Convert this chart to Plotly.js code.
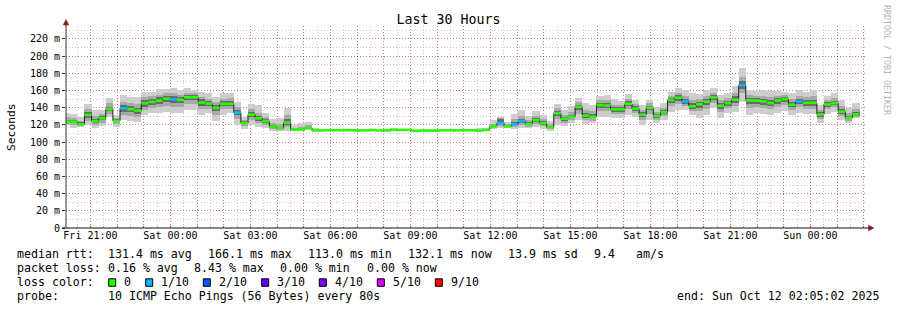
<!DOCTYPE html>
<html><head><meta charset="utf-8">
<script src="https://cdn.plot.ly/plotly-3.0.1.min.js"></script>
<style>html,body{margin:0;padding:0;background:#fff}#chart{width:897px;height:310px}</style>
</head><body><div id="chart"></div>
<script>
// ---- data (16-minute consolidated bins, values in ms) ----
const binStart = '2025-10-10T19:58:32Z';
const binMinutes = 16;
const median = [
 123.7,123.7,120.7,131.5,124.2,127.7,138.5,124.6,139.3,138.2,
 136.6,145.1,146.7,148.2,150.5,149.8,149.0,152.1,152.1,146.0,
 144.8,139.8,144.4,144.4,134.3,122.2,131.9,127.7,124.4,118.0,
 116.4,122.6,114.5,114.8,116.4,113.5,113.5,113.8,113.8,113.8,
 113.8,113.5,113.5,114.0,113.5,113.5,114.2,114.2,114.2,113.0,
 113.3,113.3,113.3,113.6,113.6,113.6,113.7,113.7,113.3,114.2,
 118.4,121.9,118.2,120.7,124.2,121.0,125.5,121.9,117.0,133.5,
 127.1,129.4,140.9,130.8,129.4,143.0,142.6,138.1,138.1,144.4,
 138.9,131.8,139.9,130.4,134.7,148.8,151.5,147.3,141.6,144.0,
 146.9,151.9,142.2,145.3,149.2,166.1,148.6,148.1,147.3,145.3,
 148.3,150.0,143.4,147.3,145.7,145.7,132.1,143.8,145.3,135.4,
 128.1,132.1];
const loss = [
 0,0,0,0,0,0,0,0,1,0, 0,0,0,0,0,1,0,0,0,0, 0,0,0,0,1,0,0,0,0,0,
 0,0,0,0,0,0,0,0,0,0, 0,0,0,0,0,0,0,0,0,0, 0,0,0,0,0,0,0,0,0,0,
 0,1,0,1,1,0,0,0,0,0, 0,0,0,0,0,0,0,0,0,0, 0,0,0,0,0,0,0,1,0,0,
 0,0,0,0,0,1,0,0,0,0, 0,0,0,1,0,0,0,0,0,0, 0,0];
const smokeLo = [
 120.0,116.1,118.0,119.9,116.1,118.8,128.9,118.0,125.8,125.0,
 123.1,131.6,133.5,133.5,135.5,133.5,134.3,137.4,137.4,131.6,
 133.5,125.0,131.6,133.5,119.9,115.3,119.9,118.0,116.1,113.3,
 113.3,113.3,113.3,113.3,114.1,112.6,112.7,112.9,112.9,112.9,
 112.8,112.6,112.6,113.0,112.6,112.7,113.2,113.2,113.2,112.2,
 112.4,112.4,112.5,112.7,112.7,112.7,112.8,112.8,112.4,113.1,
 115.3,116.0,116.0,115.3,116.8,116.0,118.0,115.3,112.9,119.9,
 119.1,121.9,125.7,120.7,121.9,129.6,129.6,127.7,128.5,131.6,
 129.6,119.9,125.7,121.9,125.7,135.4,137.4,137.4,131.6,127.7,
 131.6,139.3,128.5,133.5,135.4,147.1,131.6,133.5,132.3,131.6,
 133.5,136.2,131.6,133.5,132.3,132.3,121.9,132.3,135.4,125.7,
 121.9,127.7];
const smokeHi = [
 134.3,132.7,129.6,144.4,137.4,137.4,151.8,131.6,154.9,152.9,
 152.1,158.0,158.7,161.8,161.5,162.6,160.7,162.6,160.7,158.7,
 156.8,152.9,156.8,157.6,147.1,129.6,144.4,143.2,133.5,126.9,
 127.7,139.3,119.5,122.7,123.4,116.5,115.0,115.2,115.0,115.0,
 115.4,115.0,114.8,115.6,115.0,114.9,115.8,115.6,115.5,114.4,
 114.6,114.6,114.8,115.0,115.0,115.2,115.3,115.4,116.5,115.8,
 125.7,129.6,123.8,132.3,137.4,130.4,136.2,131.6,124.6,144.4,
 137.4,142.0,151.7,145.1,143.2,153.7,154.8,149.8,147.9,156.0,
 149.0,143.2,149.0,141.3,145.9,157.9,162.6,160.7,156.8,155.6,
 160.7,162.6,154.8,156.8,165.7,185.9,160.7,159.5,160.7,159.5,
 159.5,158.7,156.8,160.7,158.7,160.7,143.2,154.1,156.8,149.0,
 139.3,145.1];
const innerLo = [
 121.5,119.5,119.0,125.0,119.5,122.5,132.5,121.0,131.5,130.5,
 129.5,137.5,139.5,140.5,142.5,141.0,141.0,144.5,144.5,139.0,
 138.5,132.0,138.0,139.0,127.0,118.5,125.5,122.0,120.0,115.5,
 114.5,117.0,113.8,114.0,115.0,113.0,113.0,113.3,113.3,113.3,
 113.3,113.0,113.0,113.5,113.0,113.0,113.7,113.7,113.7,112.5,
 112.8,112.8,112.8,113.1,113.1,113.1,113.2,113.2,112.8,113.7,
 116.5,118.5,117.0,117.5,120.0,118.0,121.5,118.5,114.8,126.5,
 122.5,125.5,133.0,125.5,125.0,136.5,136.0,132.5,133.0,138.0,
 134.0,125.5,133.0,126.0,130.0,142.0,144.5,142.0,136.5,136.0,
 139.0,145.5,135.5,139.5,142.0,156.5,140.0,141.0,140.0,138.5,
 141.0,143.0,137.5,140.5,139.0,139.0,127.0,138.0,140.5,130.5,
 125.0,129.5];
const innerHi = [
 129.0,128.5,125.0,138.0,130.0,132.5,145.0,128.0,147.0,145.5,
 144.0,152.0,153.0,155.0,156.5,156.5,155.0,157.5,157.0,152.5,
 150.5,146.5,150.5,151.0,141.0,126.0,138.5,134.0,129.0,122.0,
 121.0,131.0,116.5,118.0,119.5,114.6,114.4,114.6,114.6,114.6,
 114.7,114.3,114.3,114.9,114.3,114.3,115.0,115.0,115.0,113.8,
 114.1,114.1,114.1,114.4,114.4,114.5,114.5,114.6,114.5,115.0,
 121.5,128.0,120.5,126.5,130.5,125.5,130.5,126.5,120.5,139.5,
 132.0,135.0,146.5,137.5,136.0,148.5,148.5,143.5,143.0,150.0,
 144.0,137.5,145.0,135.5,140.0,153.5,157.0,153.5,148.5,150.0,
 153.5,157.0,148.5,151.0,156.5,176.0,154.5,154.0,154.0,152.5,
 154.0,154.5,149.5,154.0,152.0,153.0,137.5,149.0,151.0,142.0,
 133.5,138.5];
const coreLo = [
 122.5,121.8,119.8,128.5,122.0,125.5,136.0,123.0,135.5,134.5,
 133.0,141.0,143.0,144.5,146.5,145.5,145.5,148.5,148.5,142.5,
 141.5,136.0,141.5,141.5,131.0,120.5,129.0,125.0,122.5,116.8,
 115.5,119.5,114.0,114.3,115.6,113.3,113.3,113.6,113.6,113.6,
 113.6,113.3,113.3,113.8,113.3,113.3,114.0,114.0,114.0,112.8,
 113.1,113.1,113.1,113.4,113.4,113.4,113.5,113.5,113.1,114.0,
 117.5,120.5,117.6,119.3,122.3,119.6,123.5,120.3,116.0,130.5,
 125.0,127.5,137.5,128.5,127.5,140.0,139.5,135.5,135.5,141.5,
 136.5,129.0,137.0,128.5,132.5,145.5,148.0,144.5,139.0,140.0,
 143.0,148.5,139.0,142.5,145.5,161.5,144.5,144.5,143.5,142.0,
 144.5,146.5,140.5,144.0,142.5,142.5,129.5,141.0,143.0,133.0,
 126.5,130.8];
const coreHi = [
 126.0,125.8,122.8,134.5,127.0,130.0,141.0,126.5,143.0,141.5,
 140.0,148.5,150.0,152.0,154.0,153.5,152.5,155.0,154.5,149.5,
 148.0,143.0,147.5,147.5,137.5,124.0,135.0,130.5,126.5,119.8,
 118.0,127.0,115.3,116.0,117.6,114.0,114.0,114.2,114.2,114.2,
 114.2,113.9,113.9,114.4,113.9,113.9,114.6,114.6,114.6,113.4,
 113.7,113.7,113.7,114.0,114.0,114.0,114.1,114.1,113.8,114.6,
 119.8,127.0,119.2,123.0,127.0,123.0,128.0,124.0,118.5,136.5,
 129.5,132.0,143.5,134.0,132.5,145.5,145.5,141.0,140.5,147.5,
 141.5,134.5,142.5,133.0,137.0,151.0,154.5,150.5,145.0,147.0,
 150.0,154.5,145.5,148.0,153.0,171.0,151.5,151.0,150.5,149.0,
 151.0,152.5,146.5,150.5,149.0,149.0,135.0,146.5,148.0,138.5,
 130.5,135.0];

const lossLevels = [0, 1, 2, 3, 4, 5, 9];
const lossLabels = ['0', '1/10', '2/10', '3/10', '4/10', '5/10', '9/10'];
const lossColors = ['#26ff00', '#00b8ff', '#0059ff', '#5e00ff', '#7e00ff', '#dd00ff', '#ff0000'];

const yTickVals = [0,20,40,60,80,100,120,140,160,180,200,220];
const yTickText = ['0','20 m','40 m','60 m','80 m','100 m','120 m','140 m','160 m','180 m','200 m','220 m'];
const xFirstHour = '2025-10-10T21:00:00Z';
const xHourCount = 30;
const xTickLabels = ['Fri 21:00','Sat 00:00','Sat 03:00','Sat 06:00','Sat 09:00','Sat 12:00','Sat 15:00','Sat 18:00','Sat 21:00','Sun 00:00'];
const rangeStart = '2025-10-10T20:05:02Z';
const rangeEnd = '2025-10-12T02:05:02Z';

const titleText = 'Last 30 Hours';
const rttItems = ['median rtt:','131.4 ms avg','166.1 ms max','113.0 ms min','132.1 ms now','13.9 ms sd','9.4','am/s'];
const lossItems = ['packet loss:','0.16 % avg','8.43 % max','0.00 % min','0.00 % now'];
const probeItems = ['probe:','10 ICMP Echo Pings (56 Bytes) every 80s'];
const endText = 'end: Sun Oct 12 02:05:02 2025';
const watermark = 'RRDTOOL / TOBI OETIKER';

// ---- layout helpers (pixel -> paper) ----
const L = 66, R = 866, T = 26, B = 228;
const PX = x => (x - L) / (R - L);
const PY = y => (B - y) / (B - T);
const MONO = 'DejaVu Sans Mono';

const binMs = binMinutes * 60000;
const t0 = Date.parse(binStart);
const starts = median.map((_, i) => t0 + i * binMs);
const centers = starts.map(s => s + binMs / 2);

function band(lo, hi, color) {
  return {type: 'bar', x: centers, base: lo, y: hi.map((h, i) => h - lo[i]), width: binMs,
    marker: {color: color, line: {width: 0}}, hoverinfo: 'skip'};
}
const traces = [
  band(smokeLo, smokeHi, '#cdcdcd'),
  band(innerLo, innerHi, '#a9a9a9'),
  band(coreLo, coreHi, '#6a6a6a'),
  {type: 'scatter', mode: 'lines', x: starts.concat([starts[starts.length - 1] + binMs]),
   y: median.concat([median[median.length - 1]]), line: {shape: 'hv', color: '#202020', width: 1}, hoverinfo: 'skip'}
];
lossLevels.forEach((lv, j) => {
  const xs = [], ys = [];
  median.forEach((m, i) => { if (loss[i] === lv) { xs.push(starts[i], starts[i] + binMs, null); ys.push(m, m, null); } });
  if (xs.length) traces.push({type: 'scatter', mode: 'lines', x: xs, y: ys, connectgaps: false,
    line: {color: lossColors[j], width: 2.6}, hoverinfo: 'skip'});
});

const hourMs = 3600000;
const xTickVals = [], xTickText = [];
for (let i = 0; i < xHourCount; i++) {
  xTickVals.push(Date.parse(xFirstHour) + i * hourMs);
  xTickText.push(i % 3 === 0 ? xTickLabels[i / 3] : '');
}

const nb = s => s.replace(/ /g, '\u00a0');
const ann = [];
function txt(x, y, s, size, extra) {
  ann.push(Object.assign({xref: 'paper', yref: 'paper', x: PX(x - 1), y: PY(y), text: nb(s), showarrow: false,
    xanchor: 'left', yanchor: 'middle', font: {family: MONO, size: size || 11.6, color: '#000'}}, extra || {}));
}
const rttX = [16, 107.3, 207.3, 306.7, 407, 507.3, 593.3, 635];
rttItems.forEach((s, i) => txt(rttX[i], 254.3, s));
const lossX = [16, 107.3, 192.7, 279.3, 365.7];
lossItems.forEach((s, i) => txt(lossX[i], 268.3, s));
txt(16, 282.3, 'loss color:');
const swX = [108.7, 145.7, 203.3, 261.7, 319.3, 377.3, 435.3];
const shapes = [];
lossLabels.forEach((s, i) => {
  txt(swX[i] + 14.6, 282.3, s);
  shapes.push({type: 'rect', xref: 'paper', yref: 'paper', x0: PX(swX[i]), x1: PX(swX[i] + 7), y0: PY(286.3), y1: PY(278.8),
    fillcolor: lossColors[i], line: {color: '#000', width: 1}});
});
txt(16, 296, probeItems[0]);
txt(107.3, 296, probeItems[1]);
ann.push({xref: 'paper', yref: 'paper', x: PX(881), y: PY(296), text: nb(endText), showarrow: false,
  xanchor: 'right', yanchor: 'middle', font: {family: MONO, size: 11.6, color: '#000'}});
ann.push({xref: 'paper', yref: 'paper', x: PX(11), y: PY(127), text: 'Seconds', showarrow: false, textangle: -90,
  xanchor: 'center', yanchor: 'middle', font: {family: MONO, size: 11.3, color: '#000'}});
ann.push({xref: 'paper', yref: 'paper', x: PX(887), y: PY(60), text: nb(watermark), showarrow: false, textangle: 90,
  xanchor: 'center', yanchor: 'middle', font: {family: MONO, size: 8.3, color: '#b4b4b4'}});

// axes lines and arrows
shapes.push({type: 'line', xref: 'paper', yref: 'paper', x0: PX(66), x1: PX(66), y0: PY(228), y1: PY(24), line: {color: '#333', width: 1}});
shapes.push({type: 'line', xref: 'paper', yref: 'paper', x0: PX(62), x1: PX(869), y0: PY(228), y1: PY(228), line: {color: '#111', width: 1}});
shapes.push({type: 'path', xref: 'paper', yref: 'paper', fillcolor: '#8a1c1c', line: {color: '#8a1c1c', width: 0.5},
  path: `M ${PX(63.2)} ${PY(25)} L ${PX(68.8)} ${PY(25)} L ${PX(66)} ${PY(19.5)} Z`});
shapes.push({type: 'path', xref: 'paper', yref: 'paper', fillcolor: '#8a1c1c', line: {color: '#8a1c1c', width: 0.5},
  path: `M ${PX(868.5)} ${PY(225.2)} L ${PX(868.5)} ${PY(230.8)} L ${PX(874)} ${PY(228)} Z`});

const redGrid = 'rgba(255,0,0,0.42)', greyGrid = 'rgba(128,128,128,0.42)';
const layout = {
  width: 897, height: 310,
  margin: {l: L, r: 897 - R, t: T, b: 310 - B, pad: 0},
  paper_bgcolor: '#ffffff', plot_bgcolor: '#ffffff',
  showlegend: false, barmode: 'overlay', bargap: 0,
  title: {text: titleText, font: {family: MONO, size: 13.3, color: '#000'},
    x: 0.5, xref: 'container', xanchor: 'center', y: 1 - 19.5 / 310, yref: 'container', yanchor: 'middle'},
  xaxis: {type: 'date', range: [Date.parse(rangeStart), Date.parse(rangeEnd)], tickmode: 'array',
    tickvals: xTickVals, ticktext: xTickText, showgrid: true, gridcolor: redGrid, griddash: '1px,2px', gridwidth: 1,
    ticks: 'inside', ticklen: 2, tickcolor: 'rgba(255,0,0,0.6)', tickfont: {family: MONO, size: 10, color: '#000'},
    minor: {tickmode: 'linear', tick0: '2025-10-10 00:00:00', dtick: 1800000, showgrid: true, gridcolor: greyGrid,
      griddash: '1px,2px', gridwidth: 1, ticks: 'inside', ticklen: 2, tickcolor: 'rgba(128,128,128,0.5)'},
    zeroline: false, showline: false, fixedrange: true},
  yaxis: {range: [0, 235], tickmode: 'array', tickvals: yTickVals, ticktext: yTickText, showgrid: true,
    gridcolor: redGrid, griddash: '1px,2px', gridwidth: 1, ticks: 'outside', ticklen: 3, tickcolor: '#333',
    tickfont: {family: MONO, size: 10, color: '#000'},
    minor: {tickmode: 'linear', tick0: 0, dtick: 10, showgrid: true, gridcolor: greyGrid, griddash: '1px,2px', gridwidth: 1},
    zeroline: false, showline: false, fixedrange: true},
  shapes: shapes,
  annotations: ann
};
Plotly.newPlot('chart', traces, layout, {displayModeBar: false, staticPlot: true});
</script>
</body></html>
